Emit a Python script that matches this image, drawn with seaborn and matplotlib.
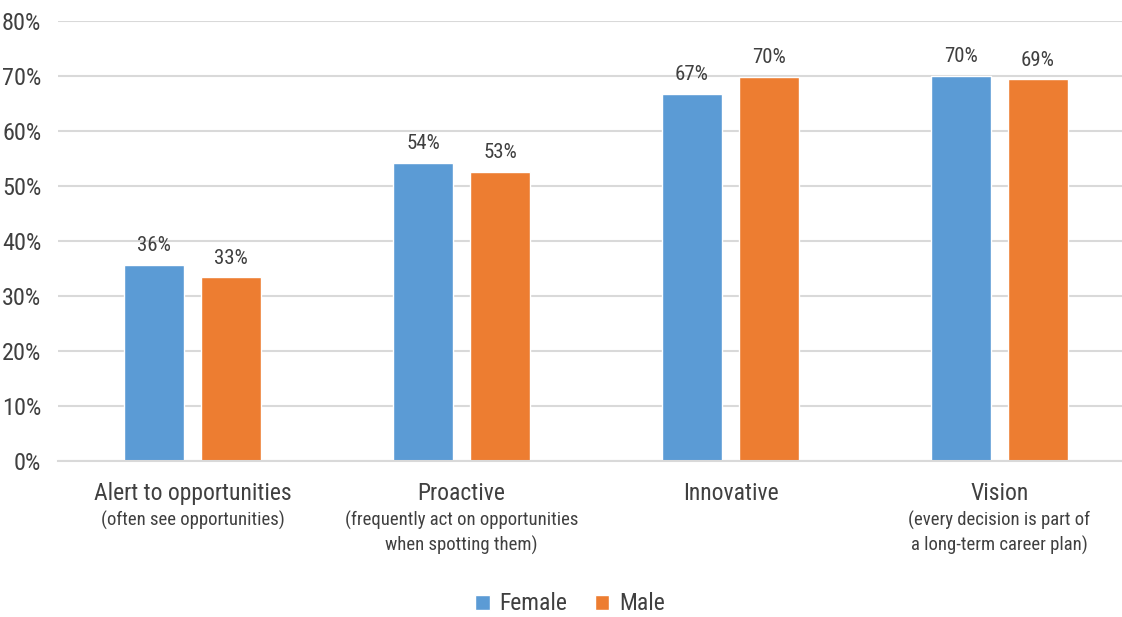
import matplotlib
matplotlib.use("Agg")
import matplotlib.pyplot as plt
import matplotlib.transforms as mtransforms
from matplotlib import font_manager
import seaborn as sns
import pandas as pd

categories = ["Alert to opportunities", "Proactive", "Innovative", "Vision"]
subtitles = ["(often see opportunities)",
             "(frequently act on opportunities\nwhen spotting them)",
             "",
             "(every decision is part of\na long-term career plan)"]
female = [35.7, 54.2, 66.8, 70.0]
male = [33.4, 52.6, 69.8, 69.4]
series = ["Female", "Male"]
yticks = [0, 10, 20, 30, 40, 50, 60, 70, 80]

sns.set_theme(style="white")
fonts = font_manager.fontManager.ttflist
names = {f.name for f in fonts}
cond = [f for f in fonts if f.stretch in ("condensed", "semi-condensed", "extra-condensed")]
stretch = "normal"
fam = None
for cand in ["Roboto Condensed", "Liberation Sans Narrow", "Open Sans Condensed", "Noto Sans Condensed"]:
    if cand in names:
        fam = cand
        break
if fam is None:
    dj = [f for f in cond if f.name == "DejaVu Sans"]
    if dj:
        fam = "DejaVu Sans"
        stretch = "condensed"
    else:
        fam = "Roboto"
plt.rcParams["font.family"] = [fam, "DejaVu Sans"]
plt.rcParams["font.stretch"] = stretch
txt = "#404040"
grid = "#d9d9d9"

df = pd.DataFrame({
    "category": categories * 2,
    "series": [series[0]] * len(categories) + [series[1]] * len(categories),
    "value": female + male,
})

fig = plt.figure(figsize=(11.22, 6.17), dpi=100)
ax = fig.add_axes([58 / 1122, 1 - 461 / 617, 1 - 58 / 1122, (461 - 21) / 617])

sns.barplot(data=df, x="category", y="value", hue="series", order=categories,
            hue_order=series, palette=["#5B9BD5", "#ED7D31"], width=0.572,
            gap=0.22, saturation=1, ax=ax, legend=True)

for c in ax.containers:
    ax.bar_label(c, labels=[f"{v:.0f}%" for v in c.datavalues], padding=7,
                 fontsize=15, color=txt)

ax.set_ylim(0, 80)
ax.set_yticks(yticks)
ax.set_yticklabels([f"{t}%" for t in yticks], fontsize=17.5, color=txt)
ax.set_xlim(-0.5, 3.5 - 12 / 269)
ax.yaxis.grid(True, color=grid, linewidth=1.5)
ax.set_axisbelow(True)
for s in ["top", "right", "left"]:
    ax.spines[s].set_visible(False)
ax.spines["bottom"].set_color(grid)
ax.spines["bottom"].set_linewidth(1.5)
ax.tick_params(axis="y", length=0, pad=12)
ax.tick_params(axis="x", length=0, pad=15)
ax.set_xticks(range(len(categories)))
ax.set_xticklabels(categories, fontsize=17, color=txt)
ax.set_xlabel("")
ax.set_ylabel("")

trans = mtransforms.blended_transform_factory(ax.transData, fig.transFigure)
for i, s in enumerate(subtitles):
    if s:
        ax.text(i, 1 - 511 / 617, s, transform=trans, ha="center", va="top",
                fontsize=13.5, color=txt, linespacing=1.35)

handles, labels = ax.get_legend_handles_labels()
ax.get_legend().remove()
fig.legend(handles, labels, loc="center", bbox_to_anchor=(0.508, 1 - 604 / 617),
           ncol=2, frameon=False, fontsize=17, labelcolor=txt,
           handlelength=0.6, handleheight=0.6, handletextpad=0.4, columnspacing=1.2)

fig.savefig("out.png", dpi=100)
